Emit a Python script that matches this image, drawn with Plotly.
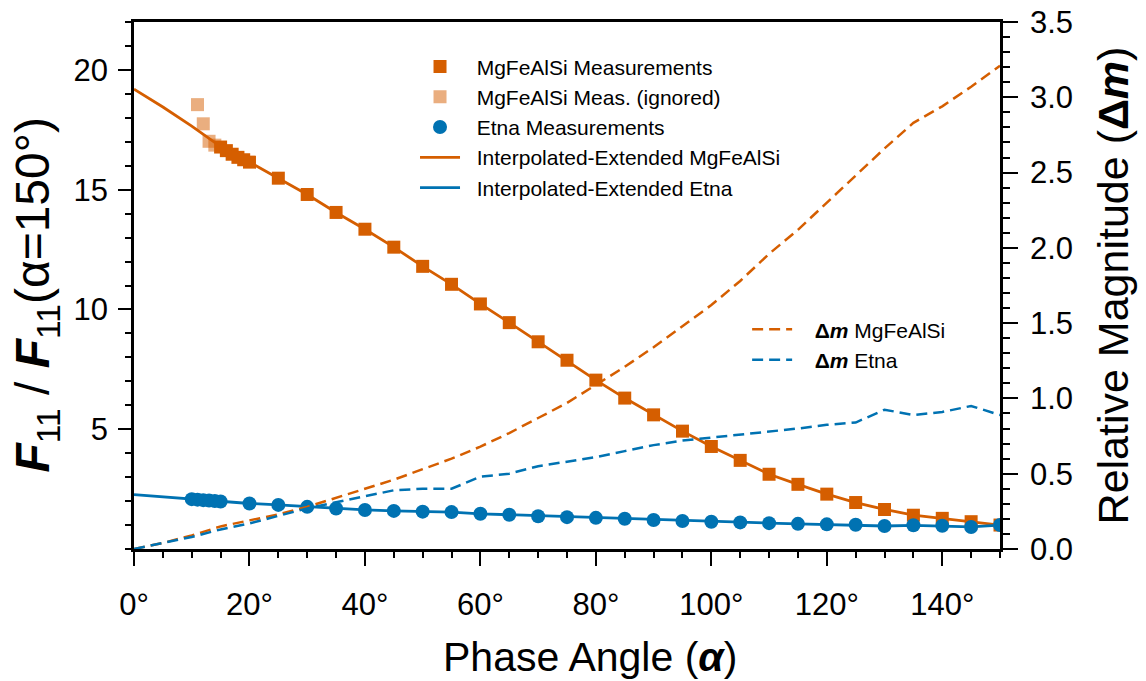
import plotly.graph_objects as go

# ---------------- data ----------------
mg_alpha = [15, 16, 17, 18, 19, 20, 25, 30, 35, 40, 45, 50, 55, 60, 65, 70, 75,
            80, 85, 90, 95, 100, 105, 110, 115, 120, 125, 130, 135, 140, 145, 150]
mg_ratio = [16.78, 16.63, 16.48, 16.35, 16.25, 16.15, 15.48, 14.80, 14.05, 13.35,
            12.60, 11.80, 11.05, 10.23, 9.45, 8.65, 7.88, 7.05, 6.30, 5.60, 4.92,
            4.28, 3.70, 3.12, 2.70, 2.29, 1.94, 1.65, 1.41, 1.28, 1.14, 1.00]

mg_ign_alpha = [11, 12, 13, 14]
mg_ign_ratio = [18.55, 17.75, 17.02, 16.86]

etna_alpha = [10, 11, 12, 13, 14, 15, 20, 25, 30, 35, 40, 45, 50, 55, 60, 65, 70,
              75, 80, 85, 90, 95, 100, 105, 110, 115, 120, 125, 130, 135, 140, 145, 150]
etna_ratio = [2.08, 2.06, 2.04, 2.02, 2.00, 1.98, 1.90, 1.84, 1.76, 1.69, 1.63,
              1.59, 1.56, 1.54, 1.47, 1.43, 1.37, 1.33, 1.30, 1.26, 1.21, 1.17,
              1.14, 1.11, 1.08, 1.05, 1.03, 1.01, 0.96, 0.99, 0.97, 0.92, 1.00]

line_alpha = [0, 5, 10, 15, 20, 25, 30, 35, 40, 45, 50, 55, 60, 65, 70, 75, 80,
              85, 90, 95, 100, 105, 110, 115, 120, 125, 130, 135, 140, 145, 150]
mg_line = [19.20, 18.45, 17.65, 16.80, 16.15, 15.48, 14.80, 14.05, 13.35, 12.60,
           11.80, 11.05, 10.23, 9.45, 8.65, 7.88, 7.05, 6.30, 5.60, 4.92, 4.28,
           3.70, 3.12, 2.70, 2.29, 1.94, 1.65, 1.41, 1.28, 1.14, 1.00]
etna_line = [2.27, 2.18, 2.08, 1.98, 1.90, 1.84, 1.76, 1.69, 1.63, 1.59, 1.56,
             1.54, 1.47, 1.43, 1.37, 1.33, 1.30, 1.26, 1.21, 1.17, 1.14, 1.11,
             1.08, 1.05, 1.03, 1.01, 0.96, 0.99, 0.97, 0.92, 1.00]

dm_mg = [0.00, 0.04, 0.09, 0.15, 0.19, 0.23, 0.28, 0.34, 0.40, 0.46, 0.53, 0.60,
         0.68, 0.77, 0.87, 0.97, 1.09, 1.21, 1.34, 1.48, 1.62, 1.78, 1.96, 2.12,
         2.30, 2.48, 2.66, 2.83, 2.94, 3.07, 3.21]
dm_etna = [0.00, 0.04, 0.08, 0.13, 0.17, 0.22, 0.27, 0.31, 0.35, 0.39, 0.40, 0.40,
           0.48, 0.50, 0.55, 0.58, 0.61, 0.65, 0.69, 0.72, 0.74, 0.76, 0.78, 0.80,
           0.825, 0.84, 0.925, 0.89, 0.91, 0.95, 0.89]

x_tickvals = [0, 20, 40, 60, 80, 100, 120, 140]
x_ticktext = ["0°", "20°", "40°", "60°", "80°", "100°", "120°", "140°"]
y_tickvals = [5, 10, 15, 20]
y2_tickvals = [0.0, 0.5, 1.0, 1.5, 2.0, 2.5, 3.0, 3.5]

ORANGE = "#D55E00"
BLUE = "#0072B2"
FONT = "Liberation Sans, Arial, Helvetica, sans-serif"
PAD = "&nbsp;&nbsp;"
PAD2 = "&nbsp;&nbsp;&nbsp;"

fig = go.Figure()

# lines first (drawn beneath markers)
fig.add_trace(go.Scatter(x=line_alpha, y=mg_line, mode="lines",
                         line=dict(color=ORANGE, width=2.8),
                         name=PAD + "Interpolated-Extended MgFeAlSi", legendrank=4))
fig.add_trace(go.Scatter(x=line_alpha, y=etna_line, mode="lines",
                         line=dict(color=BLUE, width=2.8),
                         name=PAD + "Interpolated-Extended Etna", legendrank=5))
fig.add_trace(go.Scatter(x=mg_ign_alpha, y=mg_ign_ratio, mode="markers",
                         marker=dict(symbol="square", size=13, color=ORANGE, opacity=0.5),
                         name=PAD + "MgFeAlSi Meas. (ignored)", legendrank=2))
fig.add_trace(go.Scatter(x=mg_alpha, y=mg_ratio, mode="markers",
                         marker=dict(symbol="square", size=13, color=ORANGE),
                         name=PAD + "MgFeAlSi Measurements", legendrank=1))
fig.add_trace(go.Scatter(x=etna_alpha, y=etna_ratio, mode="markers",
                         marker=dict(symbol="circle", size=14, color=BLUE),
                         name=PAD + "Etna Measurements", legendrank=3))

# relative magnitude on right axis
fig.add_trace(go.Scatter(x=line_alpha, y=dm_mg, mode="lines", yaxis="y2",
                         line=dict(color=ORANGE, width=2.5, dash="11px,6px"),
                         name=PAD2 + "<b>Δ<i>m</i></b> MgFeAlSi", legend="legend2"))
fig.add_trace(go.Scatter(x=line_alpha, y=dm_etna, mode="lines", yaxis="y2",
                         line=dict(color=BLUE, width=2.5, dash="11px,6px"),
                         name=PAD2 + "<b>Δ<i>m</i></b> Etna", legend="legend2"))

axis_common = dict(showline=True, linecolor="black", linewidth=2.5,
                   ticks="outside", tickcolor="black", tickwidth=2,
                   showgrid=False, zeroline=False, automargin=False,
                   tickfont=dict(family=FONT, size=31, color="black"))

fig.update_layout(
    width=1146, height=681,
    margin=dict(l=134, r=146, t=22, b=132, autoexpand=False),
    paper_bgcolor="white", plot_bgcolor="white",
    font=dict(family=FONT, color="black"),
    xaxis=dict(range=[0, 150], tickvals=x_tickvals, ticktext=x_ticktext,
               ticklen=14, mirror=True,
               minor=dict(dtick=5, ticklen=6, tickwidth=1.5, tickcolor="black", ticks="outside"),
               ticklabelstandoff=12,
               **axis_common),
    yaxis=dict(range=[0, 22], tickvals=y_tickvals, ticklen=13,
               minor=dict(dtick=1, ticklen=6, tickwidth=1.5, tickcolor="black", ticks="outside"),
               ticklabelstandoff=4,
               **axis_common),
    yaxis2=dict(range=[0, 3.5], tickvals=y2_tickvals, tickformat=".1f",
                overlaying="y", side="right", ticklen=15,
                minor=dict(dtick=0.1, ticklen=7, tickwidth=1.5, tickcolor="black", ticks="outside"),
                ticklabelstandoff=6,
                title=dict(text="Relative Magnitude (<b>Δ<i>m</i></b>)",
                           font=dict(family=FONT, size=43, color="black"), standoff=26),
                **axis_common),
    legend=dict(x=0.3245, y=0.954, xanchor="left", yanchor="top",
                bgcolor="rgba(0,0,0,0)", borderwidth=0,
                font=dict(family=FONT, size=21, color="black"),
                traceorder="normal", itemwidth=40, tracegroupgap=0),
    legend2=dict(x=0.708, y=0.455, xanchor="left", yanchor="top",
                 bgcolor="rgba(0,0,0,0)", borderwidth=0,
                 font=dict(family=FONT, size=21, color="black"),
                 itemwidth=40),
    annotations=[
        dict(text="Phase Angle (<b><i>α</i></b>)", xref="paper", yref="paper",
             x=0.5266, y=-0.2048, xanchor="center", yanchor="middle", showarrow=False,
             font=dict(family=FONT, size=41, color="black")),
        dict(text="<b><i>F</i></b><sub>11</sub> / <b><i>F</i></b><sub>11</sub>(α=150°)",
             xref="paper", yref="paper", x=-0.1132, y=0.8235, textangle=-90,
             xanchor="center", yanchor="top", showarrow=False,
             font=dict(family=FONT, size=48, color="black")),
    ],
)

fig.write_html("out.html")
